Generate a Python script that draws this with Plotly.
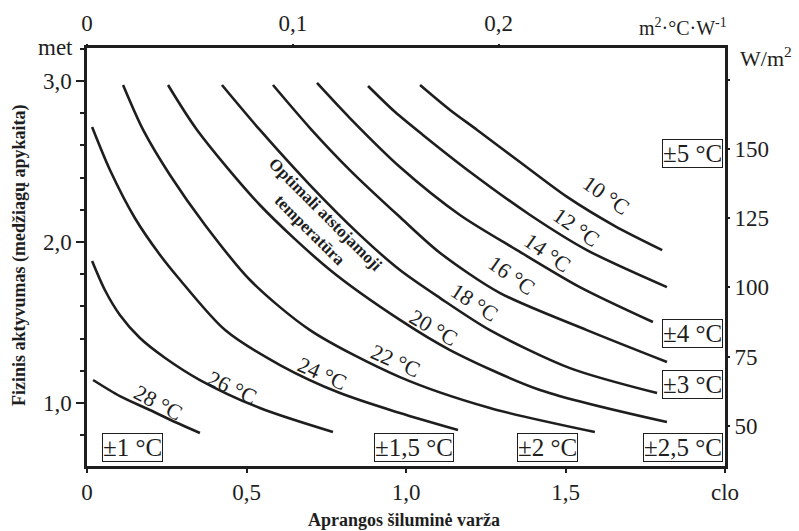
import plotly.graph_objects as go

# ---- data (clo, met) ----
temps = ["28 °C", "26 °C", "24 °C", "22 °C", "20 °C", "18 °C", "16 °C", "14 °C", "12 °C", "10 °C"]

clo_28 = [0.019, 0.103, 0.197, 0.276, 0.354]
met_28 = [1.143, 1.043, 0.957, 0.882, 0.814]

clo_26 = [0.016, 0.056, 0.103, 0.166, 0.245, 0.354, 0.542, 0.771]
met_26 = [1.882, 1.702, 1.547, 1.404, 1.280, 1.143, 0.969, 0.820]

clo_24 = [0.016, 0.072, 0.150, 0.229, 0.292, 0.433, 0.605, 0.793, 0.981, 1.163]
met_24 = [2.714, 2.447, 2.149, 1.919, 1.764, 1.453, 1.236, 1.062, 0.938, 0.832]

clo_22 = [0.113, 0.176, 0.260, 0.370, 0.511, 0.699, 0.981, 1.263, 1.592]
met_22 = [2.975, 2.696, 2.416, 2.106, 1.764, 1.453, 1.161, 0.969, 0.820]

clo_20 = [0.254, 0.345, 0.542, 0.762, 0.981, 1.138, 1.420, 1.818]
met_20 = [2.975, 2.696, 2.230, 1.826, 1.516, 1.329, 1.081, 0.882]

clo_18 = [0.423, 0.542, 0.699, 0.856, 0.981, 1.107, 1.263, 1.514, 1.787]
met_18 = [2.975, 2.696, 2.354, 2.043, 1.826, 1.652, 1.453, 1.217, 1.062]

clo_16 = [0.583, 0.699, 0.824, 0.981, 1.107, 1.295, 1.567, 1.818]
met_16 = [2.975, 2.708, 2.447, 2.155, 1.932, 1.683, 1.453, 1.255]

clo_14 = [0.721, 0.824, 0.981, 1.169, 1.348, 1.545, 1.774]
met_14 = [2.988, 2.770, 2.466, 2.168, 1.950, 1.720, 1.503]

clo_12 = [0.881, 0.966, 1.053, 1.201, 1.389, 1.567, 1.818]
met_12 = [2.969, 2.807, 2.665, 2.435, 2.168, 1.950, 1.720]

clo_10 = [1.044, 1.138, 1.223, 1.357, 1.505, 1.655, 1.803]
met_10 = [2.975, 2.820, 2.696, 2.497, 2.280, 2.099, 1.950]

curves_clo = [clo_28, clo_26, clo_24, clo_22, clo_20, clo_18, clo_16, clo_14, clo_12, clo_10]
curves_met = [met_28, met_26, met_24, met_22, met_20, met_18, met_16, met_14, met_12, met_10]

# curve label anchor points (clo, met) and text angle
label_clo = [0.223, 0.455, 0.737, 0.966, 1.085, 1.216, 1.332, 1.442, 1.536, 1.630]
label_met = [1.006, 1.099, 1.186, 1.262, 1.468, 1.625, 1.790, 1.935, 2.093, 2.292]
label_angle = [28, 25, 24, 24, 30, 33, 35, 35, 35, 35]

# tolerance boxes
tol_text = ["±1 °C", "±1,5 °C", "±2 °C", "±2,5 °C", "±3 °C", "±4 °C", "±5 °C"]
tol_clo = [0.144, 1.025, 1.445, 1.994, 1.994, 1.994, 1.994]
tol_met = [0.727, 0.727, 0.727, 0.727, 1.118, 1.429, 2.547]
tol_anchor = ["center", "center", "center", "right", "right", "right", "right"]

# axes
clo_ticks = [0, 0.5, 1.0, 1.5, 2.0]
clo_ticktext = ["0", "0,5", "1,0", "1,5", "clo"]
met_ticks = [1, 2, 3]
met_ticktext = ["1,0", "2,0", "3,0"]
met_minor = [0.8, 1.2, 1.4, 1.6, 1.8, 2.2, 2.4, 2.6, 2.8, 3.2]
wm2_ticks = [50, 75, 100, 125, 150, 175]
wm2_ticktext = ["50", "75", "100", "125", "150", ""]
r_ticks = [0, 0.1, 0.2]
r_ticktext = ["0", "0,1", "0,2"]

CLO_MAX = 2.0
MET_MIN, MET_MAX = 0.609, 3.205
W_PER_MET = 58.2
R_PER_CLO = 0.155

FONT = "Liberation Serif"
INK = "#1e1e1e"

fig = go.Figure()
for cx, my in zip(curves_clo, curves_met):
    fig.add_trace(go.Scatter(x=cx, y=my, mode="lines",
                             line=dict(color=INK, width=2.6, shape="spline", smoothing=0.8),
                             hoverinfo="skip", showlegend=False))

# secondary axes carrier (invisible)
fig.add_trace(go.Scatter(x=[0, CLO_MAX * R_PER_CLO], y=[MET_MIN * W_PER_MET, MET_MAX * W_PER_MET],
                         xaxis="x2", yaxis="y2", mode="lines", line=dict(width=0),
                         opacity=0, hoverinfo="skip", showlegend=False))

ann = []
for t, cx, my, a in zip(temps, label_clo, label_met, label_angle):
    ann.append(dict(x=cx, y=my, xref="x", yref="y", text=t, showarrow=False,
                    textangle=a, font=dict(family=FONT, size=22, color=INK)))
for t, cx, my, anc in zip(tol_text, tol_clo, tol_met, tol_anchor):
    ann.append(dict(x=cx, y=my, xref="x", yref="y", text=t, showarrow=False,
                    xanchor=anc, yanchor="middle", bordercolor=INK, borderwidth=1, borderpad=0,
                    bgcolor="white", font=dict(family=FONT, size=25, color=INK)))
ann.append(dict(x=0.724, y=2.124, xref="x", yref="y",
                text="<b>Optimali atstojamoji<br>temperatūra</b>", showarrow=False,
                textangle=45, font=dict(family=FONT, size=17, color=INK)))

def paper_note(text, x, y, size, bold=False, angle=0, xanchor="center"):
    return dict(x=x, y=y, xref="paper", yref="paper",
                text=f"<b>{text}</b>" if bold else text, showarrow=False,
                xanchor=xanchor, yanchor="middle", textangle=angle,
                font=dict(family=FONT, size=size, color=INK))

ann.append(paper_note("Aprangos šiluminė varža", 0.497, -0.129, 18, bold=True))
ann.append(paper_note("Fizinis aktyvumas (medžiagų apykaita)", -0.105, 0.505, 18, bold=True, angle=-90))
ann.append(paper_note("met", -0.05, 1.002, 23))
ann.append(paper_note("W/m<sup>2</sup>", 1.020, 0.978, 22, xanchor="left"))
ann.append(paper_note("m<sup>2</sup>·°C·W<sup>-1</sup>", 0.934, 1.05, 20))

tickfont = dict(family=FONT, size=23, color=INK)
fig.update_layout(
    width=799, height=531,
    margin=dict(l=87, r=74, t=48, b=65),
    paper_bgcolor="white", plot_bgcolor="white",
    showlegend=False,
    annotations=ann,
    xaxis=dict(range=[0, CLO_MAX], tickmode="array", tickvals=clo_ticks, ticktext=clo_ticktext,
               showline=True, linecolor=INK, linewidth=2.5, mirror=True,
               ticks="outside", ticklen=4, tickwidth=2, tickcolor=INK,
               showgrid=False, zeroline=False, tickfont=tickfont),
    yaxis=dict(range=[MET_MIN, MET_MAX], tickmode="array", tickvals=met_ticks, ticktext=met_ticktext,
               showline=True, linecolor=INK, linewidth=2.5, mirror=True,
               ticks="outside", ticklen=8, tickwidth=2, tickcolor=INK,
               minor=dict(tickvals=met_minor, ticks="outside", ticklen=4, tickwidth=2, tickcolor=INK),
               showgrid=False, zeroline=False, tickfont=tickfont),
    xaxis2=dict(overlaying="x", side="top", anchor="y2", range=[0, CLO_MAX * R_PER_CLO],
                tickmode="array", tickvals=r_ticks, ticktext=r_ticktext,
                ticks="outside", ticklen=3, tickwidth=2, tickcolor=INK, ticklabelstandoff=4,
                showline=False, showgrid=False, zeroline=False, tickfont=tickfont),
    yaxis2=dict(overlaying="y", side="right", anchor="x2", range=[MET_MIN * W_PER_MET, MET_MAX * W_PER_MET],
                tickmode="array", tickvals=wm2_ticks, ticktext=wm2_ticktext,
                ticks="outside", ticklen=4, tickwidth=2, tickcolor=INK,
                showline=False, showgrid=False, zeroline=False, tickfont=tickfont),
)

fig.write_html("out.html")
